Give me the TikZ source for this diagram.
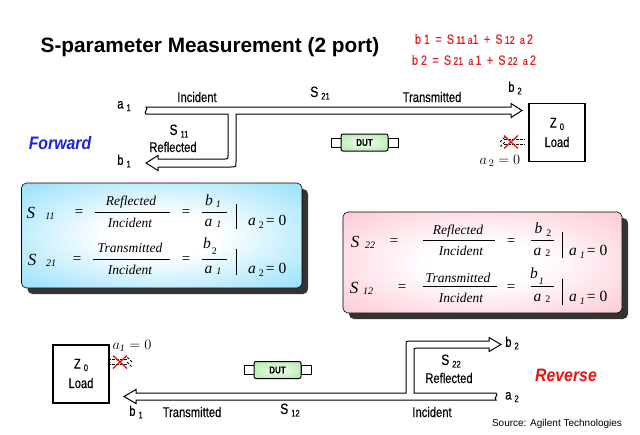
\documentclass[tikz,border=0pt]{standalone}
\usepackage{fontspec}
\setmainfont{Liberation Serif}
\newfontfamily\nar[FakeStretch=0.8,FakeBold=0.3]{Liberation Sans}
\newfontfamily\dirfont[FakeStretch=0.88]{Liberation Sans}
\newfontfamily\hel{Liberation Sans}
\newfontfamily\tms{Liberation Serif}
\definecolor{skyb}{RGB}{108,212,248}
\definecolor{pinkb}{RGB}{252,180,196}
\definecolor{fwdblue}{RGB}{25,35,225}
\definecolor{revred}{RGB}{228,22,22}
\definecolor{eqred}{RGB}{228,30,30}
\definecolor{dutg}{RGB}{150,228,140}
\pgfdeclareradialshading{blueglow}{\pgfpoint{0bp}{0bp}}{color(0bp)=(white); color(10bp)=(white); color(46bp)=(skyb); color(50bp)=(skyb)}
\pgfdeclareradialshading{pinkglow}{\pgfpoint{0bp}{0bp}}{color(0bp)=(white); color(10bp)=(white); color(46bp)=(pinkb); color(50bp)=(pinkb)}
\pgfdeclareradialshading{dutglow}{\pgfpoint{0bp}{0bp}}{color(0bp)=(white); color(15bp)=(dutg!40!white); color(50bp)=(dutg)}
\newcommand\sbs[2]{#1\hspace{3pt}\raisebox{-2.5pt}{\fontsize{9.5}{9.5}\selectfont #2}}
\newcommand\smd[1]{{\fontsize{11}{11}\selectfont #1}}
\tikzset{
  lab/.style={inner sep=0, font=\nar\fontsize{14}{14}\selectfont},
  ttl/.style={inner sep=0, font=\hel\bfseries\fontsize{20.8}{20.8}\selectfont},
  eqr/.style={inner sep=0, text=eqred, font=\nar\fontsize{13.5}{13.5}\selectfont},
  dirf/.style={inner sep=0, text=fwdblue, font=\dirfont\bfseries\itshape\fontsize{18}{18}\selectfont},
  dirr/.style={inner sep=0, text=revred, font=\dirfont\bfseries\itshape\fontsize{18}{18}\selectfont},
  src/.style={inner sep=0, font=\hel\fontsize{10}{10}\selectfont},
  hollow/.style={draw=black, line width=1pt, fill=white, line join=miter},
  loadbox/.style={draw=black, line width=1.4pt, fill=white, minimum width=56, minimum height=58, inner sep=0},
  dutbody/.style={draw=black, line width=1pt, rounded corners=2, shading=dutglow, minimum width=47, minimum height=17, inner sep=0, font=\nar\bfseries\fontsize{10}{10}\selectfont},
  dutcap/.style={draw=black, line width=1pt, fill=white, minimum width=10, minimum height=9, inner sep=0},
  redx/.style={draw=revred, line width=1.3pt},
  dasharr/.style={draw=black, line width=0.8pt, dash pattern=on 2.5pt off 1.5pt},
  mathlbl/.style={inner sep=0, font=\fontsize{14}{14}\selectfont},
  bS/.style={inner sep=0, font=\tms\itshape\fontsize{17}{17}\selectfont},
  bsub/.style={inner sep=0, font=\tms\itshape\fontsize{10}{10}\selectfont},
  beq/.style={inner sep=0, font=\tms\fontsize{15}{15}\selectfont},
  bw/.style={inner sep=0, font=\tms\itshape\fontsize{13.5}{13.5}\selectfont},
  bv/.style={inner sep=0, font=\tms\itshape\fontsize{15.5}{15.5}\selectfont},
  fracbar/.style={draw=black, line width=0.8pt},
  vbar/.style={draw=black, line width=0.9pt},
  boxedge/.style={draw=black, line width=0.6pt, rounded corners=5},
  shadowbox/.style={fill=black!80, rounded corners=5}
}
\begin{document}
\begin{tikzpicture}[x=1pt,y=-1pt]
\useasboundingbox[fill=white] (0,0) rectangle (640,434);

% title and equations
\node[ttl] (title) at (210,47) {S-parameter Measurement (2 port)};
\node[eqr] (eq1) at (474,39) {b 1\, = \,S\,\smd{11}\,\smd{a}1\, + \,S\,\smd{12}\, \smd{a}\,2};
\node[eqr] (eq2) at (474,60) {b 2\, = \,S\,\smd{21}\, \smd{a}\,1\, + \,S\,\smd{22}\, \smd{a}\,2};

% ---------------- Forward ----------------
\path[hollow] (146,107) -- (511,107) -- (511,103.5) -- (522,110.5) -- (511,117.5) -- (511,114)
  -- (236,114) -- (236,162) .. controls (236,167) .. (231,167) -- (158,167) -- (158,170.5)
  -- (146,163) -- (158,155.5) -- (158,159) -- (225,159) .. controls (228,159) .. (228,156)
  -- (228,114) -- (146,114) .. controls (143,112) and (149,109) .. (146,107) -- cycle;

\node[lab] (a1f) at (124,106) {\sbs{a}{1}};
\node[lab] (incf) at (197,97) {Incident};
\node[lab] (s21f) at (320,93) {\sbs{\fontsize{15}{15}\selectfont S}{21}};
\node[lab] (trf) at (432,97) {Transmitted};
\node[lab] (b2f) at (515,88) {\sbs{b}{2}};
\node[lab] (s11f) at (179,131) {\sbs{\fontsize{15}{15}\selectfont S}{11}};
\node[lab] (reff) at (173,147) {Reflected};
\node[lab] (b1f) at (124,161) {\sbs{b}{1}};
\node[dirf] (fwd) at (60,143) {Forward};

\node[dutcap] (dutfl) at (336,142.5) {};
\node[dutcap] (dutfr) at (393,142.5) {};
\node[dutbody] (dutf) at (364.5,142.5) {DUT};

\node[loadbox] (loadf) at (557,132.5) {};
\node[lab] (z0f) at (557,124) {\sbs{Z}{0}};
\node[lab] (ldf) at (557,142) {Load};

\coordinate (xf) at (511,142);
\draw[dasharr] ([xshift=-6]xf) -- ([xshift=-11,yshift=-5]xf);
\draw[dasharr] ([xshift=-11]xf) -- ([xshift=-6,yshift=5]xf);
\draw[dasharr] ([xshift=-7,yshift=-2.5]xf) -- ([xshift=14,yshift=-2.5]xf);
\draw[dasharr] ([xshift=-7,yshift=2.5]xf) -- ([xshift=14,yshift=2.5]xf);
\draw[redx] ([xshift=-7,yshift=-6.5]xf) -- ([xshift=7,yshift=6.5]xf);
\draw[redx] ([xshift=-7,yshift=6.5]xf) -- ([xshift=7,yshift=-6.5]xf);
\node[mathlbl] (a2f) at (500,161) {$a_{\,2}=0$};

% ---------------- Blue box ----------------
\path[shadowbox] (27.5,189) rectangle (308,294);
\shadedraw[shading=blueglow, boxedge] (21.5,183) rectangle (302,288);

\node[bS] (s11S) at (31,213) {S};
\node[bsub] (s11i) at (50,216) {11};
\node[beq] (s11e1) at (79,213) {=};
\node[bw] (s11n) at (131,202) {Reflected};
\draw[fracbar] (95,212) -- (170,212);
\node[bw] (s11d) at (130,223) {Incident};
\node[beq] (s11e2) at (186,213) {=};
\node[bv] (s11b) at (213,201) {b\hspace{3pt}\raisebox{-2pt}{\fontsize{10}{10}\selectfont 1}};
\draw[fracbar] (202,212) -- (227,212);
\node[bv] (s11a) at (213,223) {a\hspace{4pt}\raisebox{-1pt}{\fontsize{10}{10}\selectfont 1}};
\draw[vbar] (236,204) -- (236,229);
\node[bv, anchor=west] (s11c) at (248,222) {a\hspace{3pt}\raisebox{-3pt}{\fontsize{10}{10}\selectfont\upshape 2}\hspace{2pt}\upshape = 0};

\node[bS] (s21S) at (32,260) {S};
\node[bsub] (s21i) at (51,263) {21};
\node[beq] (s21e1) at (77,260) {=};
\node[bw] (s21n) at (130,248) {Transmitted};
\draw[fracbar] (93,259) -- (170,259);
\node[bw] (s21d) at (130,270) {Incident};
\node[beq] (s21e2) at (186,260) {=};
\node[bv] (s21b) at (210,246) {b\hspace{1pt}\raisebox{-6pt}{\fontsize{10}{10}\selectfont\upshape 2}};
\draw[fracbar] (202,259) -- (227,259);
\node[bv] (s21a) at (213,270) {a\hspace{4pt}\raisebox{-1pt}{\fontsize{10}{10}\selectfont 1}};
\draw[vbar] (236,249) -- (236,275);
\node[bv, anchor=west] (s21c) at (248,270) {a\hspace{3pt}\raisebox{-3pt}{\fontsize{10}{10}\selectfont\upshape 2}\hspace{2pt}\upshape = 0};

% ---------------- Pink box ----------------
\path[shadowbox] (349,218) rectangle (628,319);
\shadedraw[shading=pinkglow, boxedge] (343,212) rectangle (622,313);

\node[bS] (s22S) at (355,242) {S};
\node[bsub] (s22i) at (370,245) {22};
\node[beq] (s22e1) at (394,242) {=};
\node[bw] (s22n) at (458,231) {Reflected};
\draw[fracbar] (423,240) -- (495,240);
\node[bw] (s22d) at (461,251) {Incident};
\node[beq] (s22e2) at (511,242) {=};
\node[bv] (s22b) at (543,230) {b\hspace{4pt}\raisebox{-3pt}{\fontsize{10}{10}\selectfont\upshape 2}};
\draw[fracbar] (531,240) -- (554,240);
\node[bv] (s22a) at (542,252) {a\hspace{4pt}\raisebox{-1pt}{\fontsize{10}{10}\selectfont\upshape 2}};
\draw[vbar] (562,232) -- (562,258);
\node[bv, anchor=west] (s22c) at (569,252) {a\hspace{3pt}\raisebox{-3pt}{\fontsize{10}{10}\selectfont 1}\hspace{2pt}\upshape = 0};

\node[bS] (s12S) at (354,288) {S};
\node[bsub] (s12i) at (368,291) {12};
\node[beq] (s12e1) at (402,288) {=};
\node[bw] (s12n) at (458,278) {Transmitted};
\draw[fracbar] (423,286) -- (497,286);
\node[bw] (s12d) at (461,298) {Incident};
\node[beq] (s12e2) at (511,288) {=};
\node[bv] (s12b) at (537,276) {b\hspace{1pt}\raisebox{-6pt}{\fontsize{10}{10}\selectfont 1}};
\draw[fracbar] (531,286) -- (554,286);
\node[bv] (s12a) at (542,298) {a\hspace{4pt}\raisebox{-1pt}{\fontsize{10}{10}\selectfont\upshape 2}};
\draw[vbar] (562,279) -- (562,305);
\node[bv, anchor=west] (s12c) at (569,298) {a\hspace{3pt}\raisebox{-3pt}{\fontsize{10}{10}\selectfont 1}\hspace{2pt}\upshape = 0};

% ---------------- Reverse ----------------
\path[hollow] (496,400) -- (136,400) -- (136,403.5) -- (124,396.5) -- (136,389.5) -- (136,393)
  -- (406,393) -- (406,346) .. controls (406,341) .. (411,341) -- (489,341) -- (489,337.5)
  -- (501,344.5) -- (489,351.5) -- (489,348) -- (417,348) .. controls (414,348) .. (414,351)
  -- (414,393) -- (496,393) .. controls (499,395) and (493,398) .. (496,400) -- cycle;

\node[loadbox] (loadr) at (81,374) {};
\node[lab] (z0r) at (81,365) {\sbs{Z}{0}};
\node[lab] (ldr) at (81,383) {Load};
\node[mathlbl] (a1r) at (132,346) {$a_{\mathit{1}}=0$};

\coordinate (xr) at (120,362);
\draw[dasharr] ([xshift=7]xr) -- ([xshift=12,yshift=-5]xr);
\draw[dasharr] ([xshift=12]xr) -- ([xshift=7,yshift=5]xr);
\draw[dasharr] ([xshift=-12,yshift=-2.5]xr) -- ([xshift=8,yshift=-2.5]xr);
\draw[dasharr] ([xshift=-12,yshift=2.5]xr) -- ([xshift=8,yshift=2.5]xr);
\draw[redx] ([xshift=-7,yshift=-6.5]xr) -- ([xshift=7,yshift=6.5]xr);
\draw[redx] ([xshift=-7,yshift=6.5]xr) -- ([xshift=7,yshift=-6.5]xr);

\node[dutcap] (dutrl) at (249,370) {};
\node[dutcap] (dutrr) at (306,370) {};
\node[dutbody] (dutr) at (277.5,370) {DUT};

\node[lab] (b2r) at (512,343) {\sbs{b}{2}};
\node[lab] (a2r) at (512,397) {\sbs{a}{2}};
\node[lab] (s22r) at (451,361) {\sbs{\fontsize{15}{15}\selectfont S}{22}};
\node[lab] (refr) at (449,378) {Reflected};
\node[dirr] (rev) at (566,375) {Reverse};
\node[lab] (b1r) at (136,412) {\sbs{b}{1}};
\node[lab] (trr) at (192,412) {Transmitted};
\node[lab] (s12r) at (290,410) {\sbs{\fontsize{15}{15}\selectfont S}{12}};
\node[lab] (incr) at (432,412) {Incident};
\node[src] (srcr) at (557,424) {Source: Agilent Technologies};
\end{tikzpicture}
\end{document}
